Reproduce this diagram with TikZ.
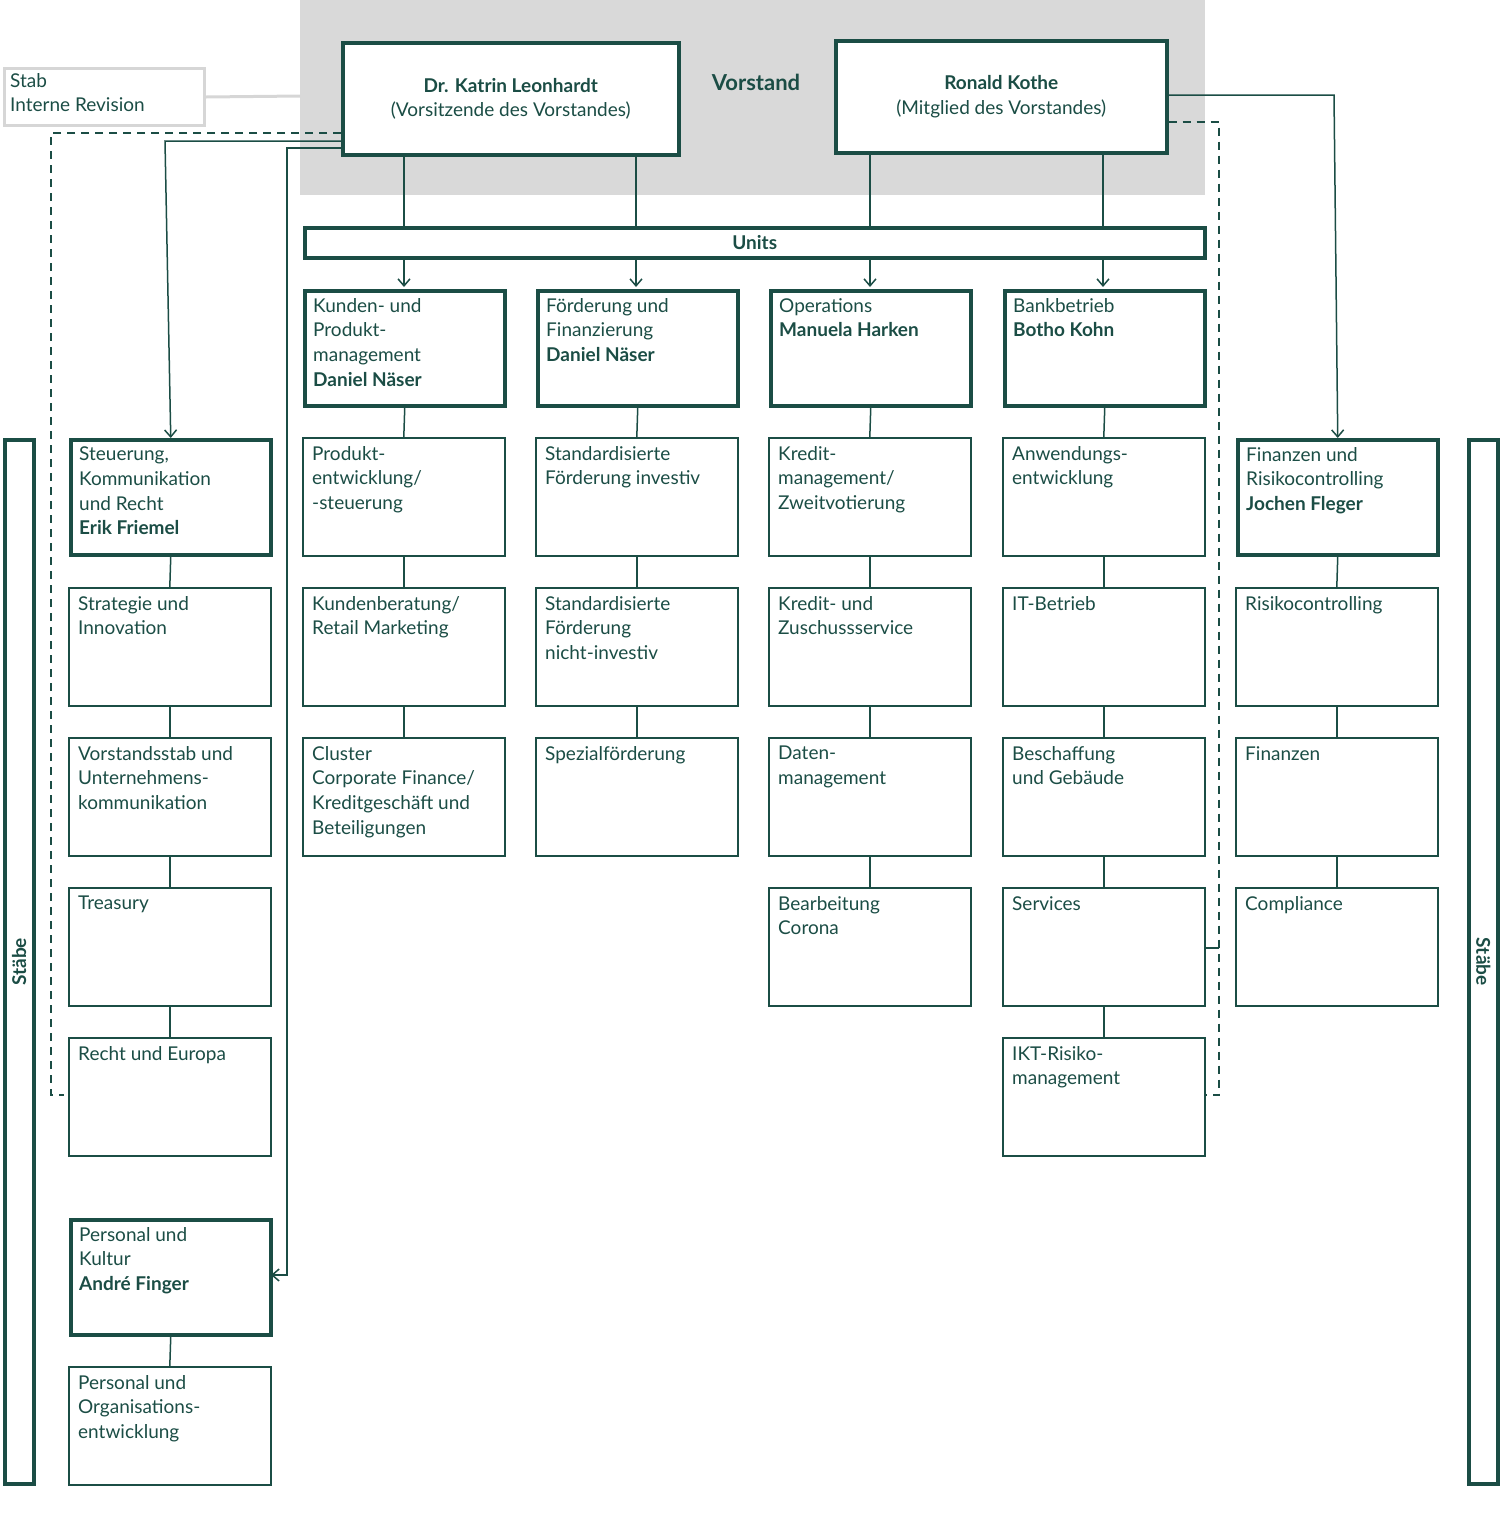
\documentclass[tikz,border=0pt]{standalone}
\usepackage{fontspec}
\setmainfont{Lato}
\usetikzlibrary{arrows.meta}
\definecolor{dg}{HTML}{1B4D45}
\definecolor{bgg}{HTML}{D9D9D9}
\definecolor{lg}{HTML}{D6D6D6}
\tikzset{
 thin box/.style={draw=dg,line width=1.6pt,minimum width=202pt,minimum height=118pt,anchor=north west,inner sep=0},
 thick box/.style={draw=dg,line width=3.5pt,minimum width=200pt,minimum height=115pt,anchor=north west,inner sep=0},
 txt/.style={align=left,font=\fontsize{19}{24.6}\selectfont,inner sep=0,text=dg},
 conn/.style={draw=dg,line width=1.5pt},
 arr/.style={conn,-{Straight Barb[length=7pt,width=12pt,line width=1.5pt]}},
 dsh/.style={conn,dash pattern=on 8pt off 6pt},
}
\newcommand\ubox[5]{%
 \node[#4] (#1) at (#2,#3) {};
 \node[txt,anchor=north west] at ([xshift=10pt,yshift=-9pt]#1.north west) {#5};}
\begin{document}
\begin{tikzpicture}[x=1pt,y=-1pt]
\useasboundingbox (0,0) rectangle (1500,1516);
\fill[bgg] (300,0) rectangle (1205,195);
% Stab
\node[draw=lg,line width=3pt,minimum width=200pt,minimum height=57pt,anchor=north west,inner sep=0] (stab) at (3,67) {};
\node[txt,anchor=north west] at (10,73) {Stab\\Interne Revision};
\draw[lg,line width=3pt] (stab.east) -- (300,96);
% Vorstand
\node[draw=dg,line width=3.5pt,fill=white,minimum width=336pt,minimum height=112pt,anchor=north west,inner sep=0] (leo) at (341,41) {};
\node[txt,align=center] at (leo.center) {\textbf{Dr. Katrin Leonhardt}\\(Vorsitzende des Vorstandes)};
\node[draw=dg,line width=3.5pt,fill=white,minimum width=331pt,minimum height=112pt,anchor=north west,inner sep=0] (kot) at (834,39) {};
\node[txt,align=center] at (kot.center) {\textbf{Ronald Kothe}\\(Mitglied des Vorstandes)};
\node[txt,font=\fontsize{22}{26}\selectfont\bfseries] (vor) at (756,82) {Vorstand};
% Units
\node[draw=dg,line width=3.5pt,minimum width=900pt,minimum height=30pt,anchor=north west,inner sep=0] (units) at (303,226) {};
\node[txt,font=\fontsize{19}{24}\selectfont\bfseries] at (units.center) {Units};
\foreach \x in {404,636}{\draw[conn] (\x,153) -- (\x,226);}
\foreach \x in {870,1103}{\draw[conn] (\x,151) -- (\x,226);}
\foreach \x in {404,636,870,1103}{\draw[arr] (\x,257) -- (\x,287);}
% heads
\ubox{h1}{303}{289}{thick box}{Kunden- und\\Produkt-\\management\\\textbf{Daniel Näser}}
\ubox{h2}{536}{289}{thick box}{Förderung und\\Finanzierung\\\textbf{Daniel Näser}}
\ubox{h3}{769}{289}{thick box}{Operations\\\textbf{Manuela Harken}}
\ubox{h4}{1003}{289}{thick box}{Bankbetrieb\\\textbf{Botho Kohn}}
\ubox{s0}{69}{438}{thick box}{Steuerung,\\Kommunikation\\und Recht\\\textbf{Erik Friemel}}
\ubox{f0}{1236}{438}{thick box}{Finanzen und\\Risikocontrolling\\\textbf{Jochen Fleger}}
\ubox{p0}{69}{1218}{thick box}{Personal und\\Kultur\\\textbf{André Finger}}
% column 0
\ubox{a1}{68}{587}{thin box}{Strategie und\\Innovation}
\ubox{a2}{68}{737}{thin box}{Vorstandsstab und\\Unternehmens-\\kommunikation}
\ubox{a3}{68}{887}{thin box}{Treasury}
\ubox{a4}{68}{1037}{thin box}{Recht und Europa}
\ubox{a5}{68}{1366}{thin box}{Personal und\\Organisations-\\entwicklung}
% column 1
\ubox{b1}{302}{437}{thin box}{Produkt-\\entwicklung/\\-steuerung}
\ubox{b2}{302}{587}{thin box}{Kundenberatung/\\Retail Marketing}
\ubox{b3}{302}{737}{thin box}{Cluster\\Corporate Finance/\\Kreditgeschäft und\\Beteiligungen}
% column 2
\ubox{c1}{535}{437}{thin box}{Standardisierte\\Förderung investiv}
\ubox{c2}{535}{587}{thin box}{Standardisierte\\Förderung\\nicht-investiv}
\ubox{c3}{535}{737}{thin box}{Spezialförderung}
% column 3
\ubox{d1}{768}{437}{thin box}{Kredit-\\management/\\Zweitvotierung}
\ubox{d2}{768}{587}{thin box}{Kredit- und\\Zuschussservice}
\ubox{d3}{768}{737}{thin box}{Daten-\\management}
\ubox{d4}{768}{887}{thin box}{Bearbeitung\\Corona}
% column 4
\ubox{e1}{1002}{437}{thin box}{Anwendungs-\\entwicklung}
\ubox{e2}{1002}{587}{thin box}{IT-Betrieb}
\ubox{e3}{1002}{737}{thin box}{Beschaffung\\und Gebäude}
\ubox{e4}{1002}{887}{thin box}{Services}
\ubox{e5}{1002}{1037}{thin box}{IKT-Risiko-\\management}
% column 5
\ubox{g1}{1235}{587}{thin box}{Risikocontrolling}
\ubox{g2}{1235}{737}{thin box}{Finanzen}
\ubox{g3}{1235}{887}{thin box}{Compliance}
% vertical connectors
\foreach \u/\v in {s0/a1,a1/a2,a2/a3,a3/a4,p0/a5,h1/b1,b1/b2,b2/b3,h2/c1,c1/c2,c2/c3,h3/d1,d1/d2,d2/d3,d3/d4,h4/e1,e1/e2,e2/e3,e3/e4,e4/e5,f0/g1,g1/g2,g2/g3}
 {\draw[conn] (\u.south) -- (\v.north);}
% Staebe
\node[draw=dg,line width=3.5pt,minimum width=29pt,minimum height=1044pt,anchor=north west,inner sep=0] (sl) at (3,438) {};
\node[txt,rotate=90,font=\fontsize{19}{24}\selectfont\bfseries] at (sl.center) {Stäbe};
\node[draw=dg,line width=3.5pt,minimum width=29pt,minimum height=1044pt,anchor=north west,inner sep=0] (sr) at (1467,438) {};
\node[txt,rotate=-90,font=\fontsize{19}{24}\selectfont\bfseries] at (sr.center) {Stäbe};
% lines from Vorstand
\draw[arr] (leo.west |- 0,141) -- (165,141) -- (s0.north);
\draw[arr] (leo.west |- 0,148) -- (287,148) -- (287,1275) -- (271,1275);
\draw[arr] (kot.east |- 0,95) -- (1334,95) -- (f0.north);
\draw[dsh] (leo.west |- 0,133) -- (51,133) -- (51,1095) -- (64,1095);
\draw[dsh] (kot.east |- 0,122) -- (1219,122) -- (1219,1095) -- (1206,1095);
\draw[conn] (1219,948) -- (1206,948);
\end{tikzpicture}
\end{document}
